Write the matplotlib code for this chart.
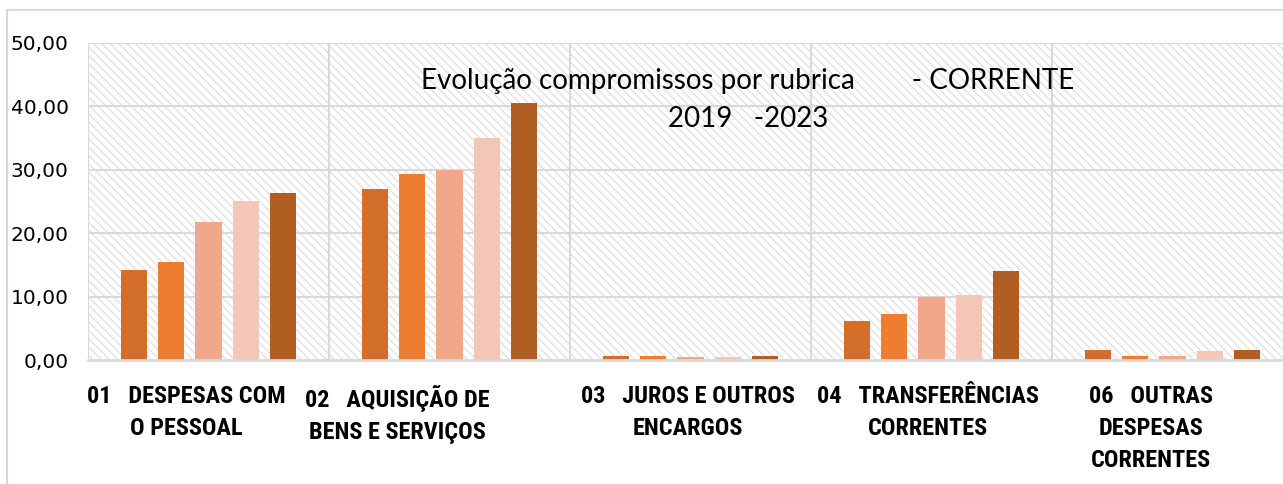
import matplotlib.pyplot as plt
import matplotlib.transforms as mtransforms
from matplotlib.patches import Rectangle
from matplotlib import font_manager
import numpy as np

categories = [
    '01   DESPESAS COM\nO PESSOAL',
    '02   AQUISIÇÃO DE\nBENS E SERVIÇOS',
    '03   JUROS E OUTROS\nENCARGOS',
    '04   TRANSFERÊNCIAS\nCORRENTES',
    '06   OUTRAS\nDESPESAS\nCORRENTES',
]
years = ['2019', '2020', '2021', '2022', '2023']
values = {
    '2019': [14.2, 26.9, 0.68, 6.2, 1.5],
    '2020': [15.4, 29.3, 0.58, 7.3, 0.66],
    '2021': [21.7, 29.9, 0.47, 9.9, 0.7],
    '2022': [25.1, 35.0, 0.52, 10.3, 1.45],
    '2023': [26.4, 40.5, 0.7, 14.0, 1.63],
}
colors = ['#D26D2A', '#ED7D31', '#F0A78A', '#F4C6B5', '#B05E22']
label_shift = [-22, -52, -3, -4, -22]  # px, labels sit a bit left in original

names = {f.name for f in font_manager.fontManager.ttflist}
cond = [n for n in ['Liberation Sans Narrow', 'Roboto Condensed', 'DejaVu Sans Condensed'] if n in names] + ['DejaVu Sans']

W, H = 1283, 484
fig = plt.figure(figsize=(W / 100, H / 100), dpi=100)
plt.rcParams['hatch.linewidth'] = 0.8

# outer chart border (right/bottom are cut off)
fig.patches.append(Rectangle((7 / W, -0.1), 1.2, 1.1 - 10 / H, transform=fig.transFigure,
                             fill=False, edgecolor='#d9d9d9', linewidth=1.5))

ax = fig.add_axes([88 / W, 1 - 360 / H, (1293 - 88) / W, 317 / H])
ax.set_facecolor('white')
ax.patch.set_hatch('\\\\\\\\')
ax.patch.set_edgecolor('#dcdcdc')

x = np.arange(len(categories))
step = 0.155
bw = 0.108
for i, y in enumerate(years):
    ax.bar(x + (i - 2) * step, values[y], width=bw, color=colors[i], zorder=3)

ax.set_xlim(-0.5, len(categories) - 0.5)
ax.set_ylim(0, 50)
ax.set_yticks(np.arange(0, 51, 10))
ax.set_yticklabels([f'{v:.2f}'.replace('.', ',') for v in range(0, 51, 10)], fontsize=14.5)
for v in range(10, 51, 10):
    ax.axhline(v, color='#d9d9d9', linewidth=1.5, zorder=1)
for b in np.arange(-0.5, len(categories), 1.0):
    ax.axvline(b, color='#d9d9d9', linewidth=1.5, zorder=1)

ax.set_xticks(x)
ax.set_xticklabels([])
for xi, cat, dx in zip(x, categories, label_shift):
    tr = ax.get_xaxis_transform() + mtransforms.ScaledTranslation(dx / 100, -25 / 100, fig.dpi_scale_trans)
    ax.text(xi, 0, cat, transform=tr, ha='center', va='top', fontsize=17.5, fontweight='bold',
            family=cond, linespacing=1.5, multialignment='center', clip_on=False)

ax.tick_params(axis='x', length=0)
ax.tick_params(axis='y', length=0, pad=14)
for s in ['top', 'right', 'left']:
    ax.spines[s].set_visible(False)
ax.spines['bottom'].set_color('#d9d9d9')
ax.spines['bottom'].set_linewidth(2)
ax.spines['bottom'].set_zorder(4)

fig.text(748 / W, 1 - 100 / H, 'Evolução compromissos por rubrica        - CORRENTE\n2019   -2023',
         ha='center', va='center', fontsize=20, linespacing=1.6, family=['Lato', 'DejaVu Sans'])

fig.savefig('out.png', dpi=100)
